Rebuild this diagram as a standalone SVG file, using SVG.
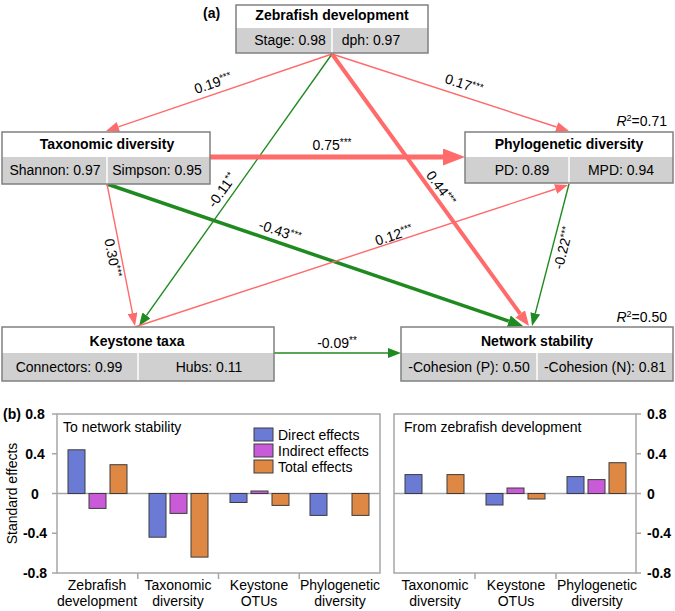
<svg xmlns="http://www.w3.org/2000/svg" width="675" height="611" viewBox="0 0 675 611">
<style>
.t{font-family:"Liberation Sans",Arial,sans-serif;font-size:14px;fill:#000}
.b{font-weight:bold}
.box{fill:none;stroke:#808080;stroke-width:1.5}
.bg{fill:#fff}
.cell{fill:#d0d0d0}
.dv{stroke:#fff;stroke-width:1.5}
.r{stroke:#ff6b6b;fill:none}
.g{stroke:#1f8a1f;fill:none}
.thin{stroke-width:1.4}
.frame{fill:none;stroke:#a6a6a6;stroke-width:1.5}
.ax{stroke:#a6a6a6;stroke-width:1.5}
.bar{stroke:#3c3c3c;stroke-width:1}
.d{fill:#6b7bd5}
.i{fill:#c95bd8}
.o{fill:#de8844}
</style>
<defs>
<marker id="hr" viewBox="0 -5 13 10" markerWidth="13" markerHeight="10" refX="0" refY="0" orient="auto" markerUnits="userSpaceOnUse"><path d="M0,-5L13,0L0,5Z" fill="#ff6b6b"/></marker>
<marker id="hg" viewBox="0 -5 13 10" markerWidth="13" markerHeight="10" refX="0" refY="0" orient="auto" markerUnits="userSpaceOnUse"><path d="M0,-5L13,0L0,5Z" fill="#1f8a1f"/></marker>
<marker id="hrT" viewBox="0 -6 15 12" markerWidth="15" markerHeight="12" refX="0" refY="0" orient="auto" markerUnits="userSpaceOnUse"><path d="M0,-6L15,0L0,6Z" fill="#ff6b6b"/></marker>
<marker id="hgT" viewBox="0 -6 15 12" markerWidth="15" markerHeight="12" refX="0" refY="0" orient="auto" markerUnits="userSpaceOnUse"><path d="M0,-6L15,0L0,6Z" fill="#1f8a1f"/></marker>
<marker id="hrB" viewBox="0 -8.5 22 17" markerWidth="22" markerHeight="17" refX="0" refY="0" orient="auto" markerUnits="userSpaceOnUse"><path d="M0,-8.5L22,0L0,8.5Z" fill="#ff6b6b"/></marker>
</defs>

<text class="t b" x="203" y="18">(a)</text>

<g id="connectors">
<line class="r thin" x1="332" y1="54" x2="118.3" y2="126.8" marker-end="url(#hr)"/>
<line class="r thin" x1="332" y1="54" x2="556.6" y2="127" marker-end="url(#hr)"/>
<line class="g thin" x1="332" y1="54" x2="146.5" y2="315.4" marker-end="url(#hg)"/>
<line class="r" stroke-width="4" x1="332" y1="54" x2="520.2" y2="313.9" marker-end="url(#hrT)"/>
<line class="r" stroke-width="5" x1="210" y1="157" x2="443" y2="157" marker-end="url(#hrB)"/>
<line class="g" stroke-width="3.5" x1="107" y1="184" x2="508.8" y2="321.2" marker-end="url(#hgT)"/>
<line class="r thin" x1="107" y1="184" x2="132.5" y2="313.2" marker-end="url(#hr)"/>
<line class="r thin" x1="135" y1="327" x2="555.6" y2="189" marker-end="url(#hr)"/>
<line class="g thin" x1="569" y1="184" x2="535.3" y2="313.4" marker-end="url(#hg)"/>
<line class="g thin" x1="274" y1="353" x2="388" y2="353" marker-end="url(#hg)"/>
<text class="t" text-anchor="middle" transform="translate(213,83) rotate(-18.8)" y="5">0.19<tspan font-size="10" dy="-4">***</tspan></text>
<text class="t" text-anchor="middle" transform="translate(464,84) rotate(18)" y="5">0.17<tspan font-size="10" dy="-4">***</tspan></text>
<text class="t" text-anchor="middle" transform="translate(222,190) rotate(-54.5)" y="5">-0.11<tspan font-size="10" dy="-4">**</tspan></text>
<text class="t" text-anchor="middle" transform="translate(441,188) rotate(54)" y="5">0.44<tspan font-size="10" dy="-4">***</tspan></text>
<text class="t" text-anchor="middle" x="332" y="150">0.75<tspan font-size="10" dy="-4">***</tspan></text>
<text class="t" text-anchor="middle" transform="translate(280,231) rotate(18.9)" y="5">-0.43<tspan font-size="10" dy="-4">***</tspan></text>
<text class="t" text-anchor="middle" transform="translate(113,258) rotate(78.8)" y="5">0.30<tspan font-size="10" dy="-4">***</tspan></text>
<text class="t" text-anchor="middle" transform="translate(394,235) rotate(-18.2)" y="5">0.12<tspan font-size="10" dy="-4">***</tspan></text>
<text class="t" text-anchor="middle" transform="translate(563,248) rotate(-75.9)" y="5">-0.22<tspan font-size="10" dy="-4">***</tspan></text>
<text class="t" text-anchor="middle" x="337" y="348">-0.09<tspan font-size="10" dy="-4">**</tspan></text>
</g>

<g id="zebrafish-development">
<rect class="bg" x="236" y="5" width="192" height="48"/>
<rect class="cell" x="236" y="28" width="192" height="25"/>
<line class="dv" x1="332" y1="28" x2="332" y2="53"/>
<rect class="box" x="236" y="5" width="192" height="48"/>
<text class="t b" text-anchor="middle" x="332" y="20">Zebrafish development</text>
<text class="t" text-anchor="middle" x="290" y="45">Stage: 0.98</text>
<text class="t" text-anchor="middle" x="371" y="45">dph: 0.97</text>
</g>

<g id="taxonomic-diversity">
<rect class="bg" x="2" y="132" width="208" height="52"/>
<rect class="cell" x="2" y="157" width="208" height="27"/>
<line class="dv" x1="107" y1="157" x2="107" y2="184"/>
<rect class="box" x="2" y="132" width="208" height="52"/>
<text class="t b" text-anchor="middle" x="107" y="149">Taxonomic diversity</text>
<text class="t" text-anchor="middle" x="55" y="175">Shannon: 0.97</text>
<text class="t" text-anchor="middle" x="157" y="175">Simpson: 0.95</text>
</g>

<g id="phylogenetic-diversity">
<rect class="bg" x="465" y="132" width="208" height="51"/>
<rect class="cell" x="465" y="157" width="208" height="26"/>
<line class="dv" x1="569" y1="157" x2="569" y2="183"/>
<rect class="box" x="465" y="132" width="208" height="51"/>
<text class="t b" text-anchor="middle" x="569" y="149">Phylogenetic diversity</text>
<text class="t" text-anchor="middle" x="522" y="175">PD: 0.89</text>
<text class="t" text-anchor="middle" x="621" y="175">MPD: 0.94</text>
<text class="t" text-anchor="end" x="667" y="126"><tspan font-style="italic">R</tspan><tspan font-size="9" dy="-5">2</tspan><tspan dy="5">=0.71</tspan></text>
</g>

<g id="keystone-taxa">
<rect class="bg" x="2" y="327" width="272" height="54"/>
<rect class="cell" x="2" y="353" width="272" height="28"/>
<line class="dv" x1="138" y1="353" x2="138" y2="381"/>
<rect class="box" x="2" y="327" width="272" height="54"/>
<text class="t b" text-anchor="middle" x="137" y="346">Keystone taxa</text>
<text class="t" text-anchor="middle" x="69" y="372">Connectors: 0.99</text>
<text class="t" text-anchor="middle" x="209" y="372">Hubs: 0.11</text>
</g>

<g id="network-stability">
<rect class="bg" x="401" y="327" width="272" height="54"/>
<rect class="cell" x="401" y="353" width="272" height="28"/>
<line class="dv" x1="537" y1="353" x2="537" y2="381"/>
<rect class="box" x="401" y="327" width="272" height="54"/>
<text class="t b" text-anchor="middle" x="537" y="346">Network stability</text>
<text class="t" text-anchor="middle" x="469" y="372">-Cohesion (P): 0.50</text>
<text class="t" text-anchor="middle" x="605" y="372">-Cohesion (N): 0.81</text>
<text class="t" text-anchor="end" x="667" y="322"><tspan font-style="italic">R</tspan><tspan font-size="9" dy="-5">2</tspan><tspan dy="5">=0.50</tspan></text>
</g>

<g id="chart-left">
<text class="t b" x="3" y="419">(b)</text>
<text class="t" text-anchor="middle" transform="translate(16.5,493.5) rotate(-90)">Standard effects</text>
<g class="t b" text-anchor="middle">
<text x="35" y="419">0.8</text><text x="35" y="459">0.4</text><text x="35" y="498.5">0</text><text x="35" y="538">-0.4</text><text x="35" y="578">-0.8</text>
</g>
<path class="ax" d="M52,414H57M52,453.75H57M52,493.5H57M52,533.25H57M52,573H57M137.75,573V579M218.5,573V579M299.25,573V579"/>
<line class="ax" x1="57" y1="493.5" x2="380" y2="493.5"/>
<rect class="bar d" x="68" y="449.8" width="17" height="43.7"/>
<rect class="bar i" x="89" y="493.5" width="17" height="14.9"/>
<rect class="bar o" x="110" y="464.7" width="17" height="28.8"/>
<rect class="bar d" x="149" y="493.5" width="17" height="43.7"/>
<rect class="bar i" x="170" y="493.5" width="17" height="19.9"/>
<rect class="bar o" x="191" y="493.5" width="17" height="63.6"/>
<rect class="bar d" x="230" y="493.5" width="17" height="9"/>
<rect class="bar i" x="251" y="491" width="17" height="2.5"/>
<rect class="bar o" x="272" y="493.5" width="17" height="11.9"/>
<rect class="bar d" x="310" y="493.5" width="17" height="21.9"/>
<rect class="bar o" x="352" y="493.5" width="17" height="21.9"/>
<rect class="frame" x="57" y="414" width="323" height="159"/>
<text class="t" x="63" y="432">To network stability</text>
<rect class="bar d" x="254" y="428" width="19" height="13"/>
<rect class="bar i" x="254" y="444" width="19" height="13"/>
<rect class="bar o" x="254" y="460" width="19" height="13"/>
<text class="t" x="278" y="440">Direct effects</text>
<text class="t" x="278" y="456">Indirect effects</text>
<text class="t" x="278" y="472">Total effects</text>
<g class="t" text-anchor="middle">
<text x="97" y="590">Zebrafish</text><text x="97" y="606">development</text>
<text x="178" y="590">Taxonomic</text><text x="178" y="606">diversity</text>
<text x="259" y="590">Keystone</text><text x="259" y="606">OTUs</text>
<text x="340" y="590">Phylogenetic</text><text x="340" y="606">diversity</text>
</g>
</g>

<g id="chart-right">
<g class="t b">
<text x="647" y="419">0.8</text><text x="647" y="459">0.4</text><text x="647" y="498.5">0</text><text x="647" y="538">-0.4</text><text x="647" y="578">-0.8</text>
</g>
<path class="ax" d="M636,414H641M636,453.75H641M636,493.5H641M636,533.25H641M636,573H641M475,573V579M556,573V579"/>
<line class="ax" x1="394" y1="493.5" x2="636" y2="493.5"/>
<rect class="bar d" x="405" y="474.6" width="17" height="18.9"/>
<rect class="bar o" x="447" y="474.6" width="17" height="18.9"/>
<rect class="bar d" x="486" y="493.5" width="17" height="11.5"/>
<rect class="bar i" x="507" y="488" width="17" height="5.5"/>
<rect class="bar o" x="528" y="493.5" width="17" height="5.5"/>
<rect class="bar d" x="567" y="476.6" width="17" height="16.9"/>
<rect class="bar i" x="588" y="479.6" width="17" height="13.9"/>
<rect class="bar o" x="609" y="462.7" width="17" height="30.8"/>
<rect class="frame" x="394" y="414" width="242" height="159"/>
<text class="t" x="404" y="432">From zebrafish development</text>
<g class="t" text-anchor="middle">
<text x="435" y="590">Taxonomic</text><text x="435" y="606">diversity</text>
<text x="516" y="590">Keystone</text><text x="516" y="606">OTUs</text>
<text x="597" y="590">Phylogenetic</text><text x="597" y="606">diversity</text>
</g>
</g>
</svg>
